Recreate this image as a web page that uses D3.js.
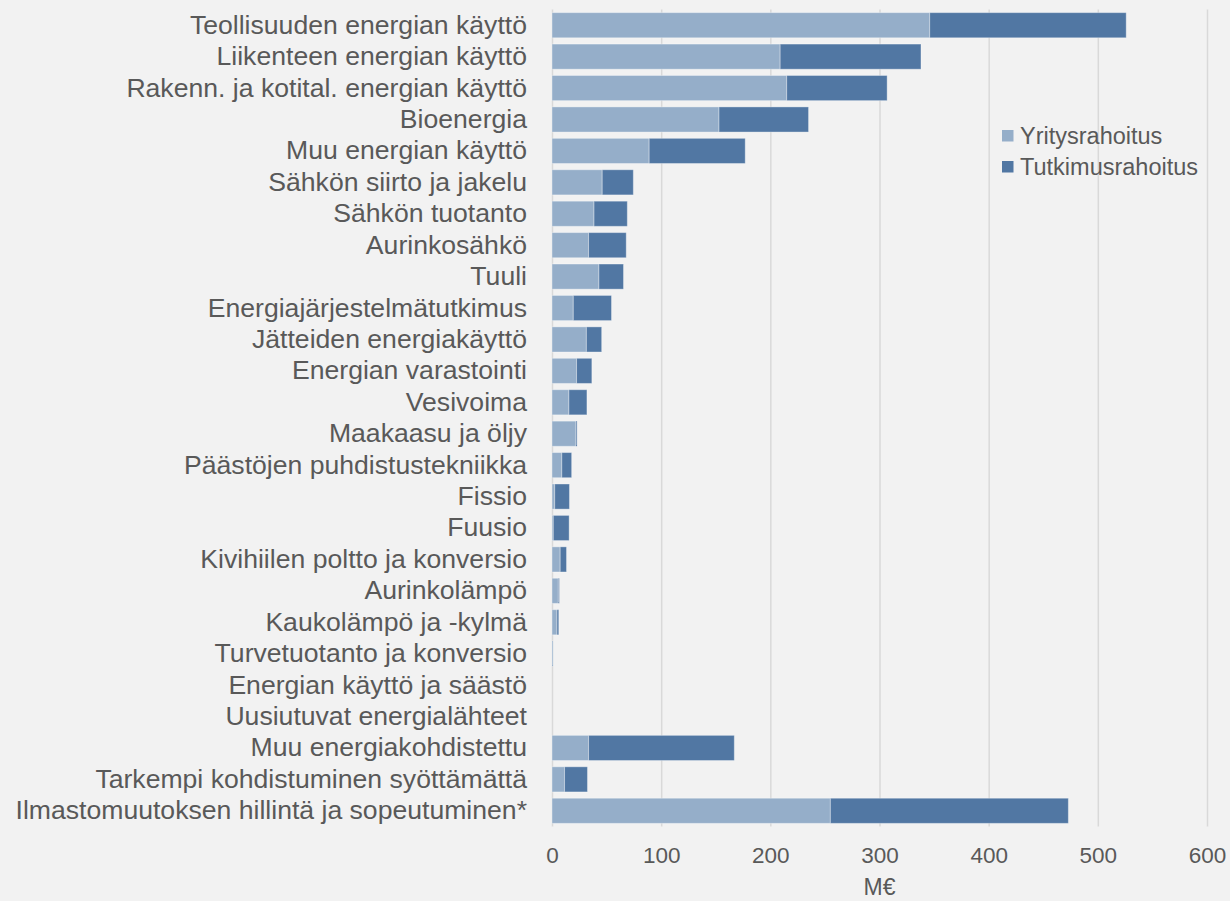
<!DOCTYPE html>
<html>
<head>
<meta charset="utf-8">
<script src="https://cdn.jsdelivr.net/npm/d3@7"></script>
<style>
  html, body { margin: 0; padding: 0; background: #f2f2f2; }
  svg { display: block; font-family: "Liberation Sans", Arial, sans-serif; }
  .grid line { stroke: #d9d9d9; stroke-width: 1.5; }
  .grid text { fill: #595959; font-size: 22.5px; }
  .cats text { fill: #595959; font-size: 26.6px; }
</style>
</head>
<body>
<div id="chart"></div>
<script>
const categories = [
  'Teollisuuden energian käyttö',
  'Liikenteen energian käyttö',
  'Rakenn. ja kotital. energian käyttö',
  'Bioenergia',
  'Muu energian käyttö',
  'Sähkön siirto ja jakelu',
  'Sähkön tuotanto',
  'Aurinkosähkö',
  'Tuuli',
  'Energiajärjestelmätutkimus',
  'Jätteiden energiakäyttö',
  'Energian varastointi',
  'Vesivoima',
  'Maakaasu ja öljy',
  'Päästöjen puhdistustekniikka',
  'Fissio',
  'Fuusio',
  'Kivihiilen poltto ja konversio',
  'Aurinkolämpö',
  'Kaukolämpö ja -kylmä',
  'Turvetuotanto ja konversio',
  'Energian käyttö ja säästö',
  'Uusiutuvat energialähteet',
  'Muu energiakohdistettu',
  'Tarkempi kohdistuminen syöttämättä',
  'Ilmastomuutoksen hillintä ja sopeutuminen*'
];

// M€
const yritysrahoitus = [346, 209, 215, 153, 89, 46, 38.5, 33.5, 43, 19.5, 31.5, 22.5, 15.5, 22, 9, 2.5, 1.2, 7.5, 5.8, 4.6, 1, 0, 0, 33.5, 11.5, 255];
const tutkimusrahoitus = [180, 129, 92, 82, 88, 28.5, 30.5, 34.5, 22.5, 35, 14, 14, 16.5, 1, 9, 13.5, 14.5, 5.8, 1, 1.6, 0, 0, 0, 133.5, 21, 218];

const seriesNames = ['Yritysrahoitus', 'Tutkimusrahoitus'];
const xTicks = [0, 100, 200, 300, 400, 500, 600];
const axisTitle = 'M€';

const width = 1230, height = 901;
const plotLeft = 552, plotRight = 1207, plotTop = 9.5, plotBottom = 826.5;
const colors = ['#95aec9', '#5177a3'];

const svg = d3.select('#chart').append('svg')
  .attr('width', width)
  .attr('height', height);

const x = d3.scaleLinear().domain([0, 600]).range([plotLeft, plotRight]);
const y = d3.scaleBand()
  .domain(categories)
  .range([plotTop, plotBottom])
  .paddingInner(0.2)
  .paddingOuter(0.1);

// gridlines + tick labels
const xAxis = d3.axisBottom(x)
  .tickValues(xTicks)
  .tickSize(-(plotBottom - plotTop))
  .tickPadding(20.5);

svg.append('g')
  .attr('class', 'grid')
  .attr('transform', 'translate(0,' + plotBottom + ')')
  .call(xAxis)
  .call(g => g.select('.domain').remove());

// stacked bars
const rows = categories.map((c, i) => ({cat: c, Yritysrahoitus: yritysrahoitus[i], Tutkimusrahoitus: tutkimusrahoitus[i]}));
const stacked = d3.stack().keys(seriesNames)(rows);

svg.append('g')
  .selectAll('g')
  .data(stacked)
  .enter().append('g')
  .attr('fill', (d, i) => colors[i])
  .selectAll('rect')
  .data(d => d)
  .enter().append('rect')
  .attr('x', d => x(d[0]))
  .attr('y', d => y(d.data.cat))
  .attr('width', d => x(d[1]) - x(d[0]))
  .attr('height', y.bandwidth())
  .attr('stroke', d => (d[1] - d[0]) > 0 ? 'rgba(255,255,255,0.35)' : 'none')
  .attr('stroke-width', 1);

// category labels
svg.append('g')
  .attr('class', 'cats')
  .attr('transform', 'translate(' + plotLeft + ',0)')
  .call(d3.axisLeft(y).tickSize(0).tickPadding(25))
  .call(g => g.select('.domain').remove());

// axis title
svg.append('text')
  .attr('x', (plotLeft + plotRight) / 2)
  .attr('y', 895)
  .attr('text-anchor', 'middle')
  .attr('fill', '#595959')
  .style('font-size', '23px')
  .text(axisTitle);

// legend
const legend = svg.append('g')
  .attr('transform', 'translate(1002,130)');

seriesNames.forEach((name, i) => {
  const row = legend.append('g').attr('transform', 'translate(0,' + (i * 31) + ')');
  row.append('rect')
    .attr('width', 11.5)
    .attr('height', 11.5)
    .attr('fill', colors[i]);
  row.append('text')
    .attr('x', 18)
    .attr('y', 14)
    .attr('fill', '#595959')
    .style('font-size', '23.5px')
    .text(name);
});
</script>
</body>
</html>
